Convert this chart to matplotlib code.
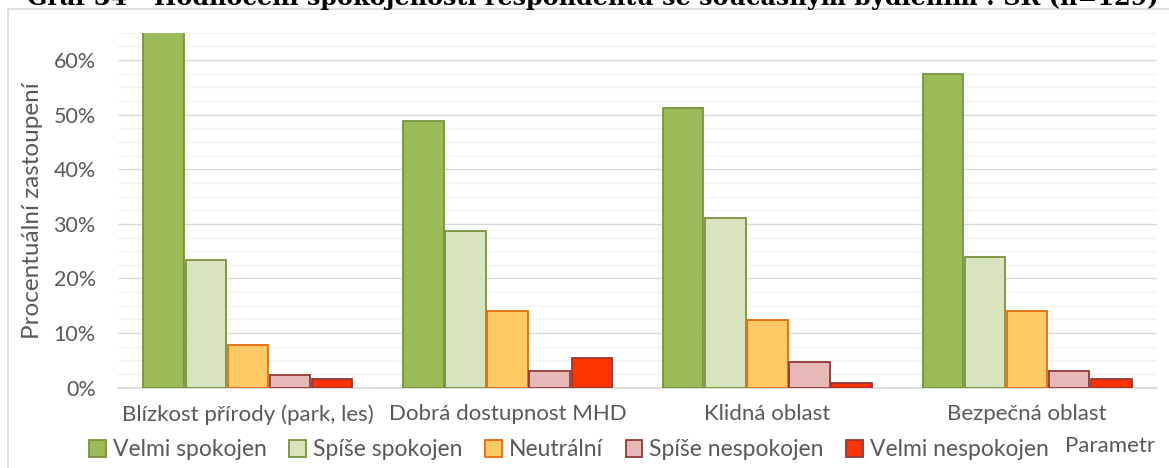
import matplotlib
matplotlib.use("Agg")
import matplotlib.pyplot as plt
import numpy as np
from matplotlib.patches import Rectangle
from matplotlib.ticker import MultipleLocator, FuncFormatter

categories = ["Blízkost přírody (park, les)", "Dobrá dostupnost MHD",
              "Klidná oblast", "Bezpečná oblast"]
series_names = ["Velmi spokojen", "Spíše spokojen", "Neutrální",
                "Spíše nespokojen", "Velmi nespokojen"]
velmi_spokojen = [65.1, 48.8, 51.2, 57.4]
spise_spokojen = [23.3, 28.7, 31.0, 24.0]
neutralni = [7.8, 14.0, 12.4, 14.0]
spise_nespokojen = [2.3, 3.1, 4.7, 3.1]
velmi_nespokojen = [1.6, 5.4, 0.8, 1.6]
title = "Graf 34 - Hodnocení spokojenosti respondentů se současným bydlením : SR (n=129)"
y_label = "Procentuální zastoupení"
x_label = "Parametr"

series = [velmi_spokojen, spise_spokojen, neutralni, spise_nespokojen, velmi_nespokojen]
fills = ["#9BBB59", "#D7E4BD", "#FFC966", "#E6B9B8", "#FF3300"]
edges = ["#77933C", "#77933C", "#E46C0A", "#953735", "#953735"]

plt.rcParams["font.family"] = ["Lato", "DejaVu Sans"]
txt = "#595959"

W, H = 1169, 468
fig = plt.figure(figsize=(W / 100, H / 100), dpi=100)
ax = fig.add_axes([118 / W, 1 - 387.7 / H, (1157 - 118) / W, (387.7 - 32.7) / H])

# chart frame
fig.patches.append(Rectangle((8 / W, -0.05), 1.2, 1 - 9 / H + 0.05, transform=fig.transFigure,
                             fill=False, edgecolor="#D9D9D9", linewidth=1.2, zorder=0))

x = np.arange(len(categories))
bw = 0.162
for i, (vals, fc, ec, name) in enumerate(zip(series, fills, edges, series_names)):
    ax.bar(x + (i - 2) * bw, vals, width=bw - 0.006, color=fc, edgecolor=ec,
           linewidth=1.3, label=name, zorder=3)

ax.set_xlim(-0.5, len(categories) - 0.5)
ax.set_ylim(0, 65)
ax.yaxis.set_major_locator(MultipleLocator(10))
ax.yaxis.set_minor_locator(MultipleLocator(2.5))
ax.yaxis.set_major_formatter(FuncFormatter(lambda v, p: f"{v:.0f}%"))
ax.grid(axis="y", which="major", color="#D9D9D9", linewidth=1.0, zorder=0)
ax.grid(axis="y", which="minor", color="#F2F2F2", linewidth=1.0, zorder=0)
ax.set_axisbelow(True)
for s in ["top", "right", "left"]:
    ax.spines[s].set_visible(False)
ax.spines["bottom"].set_color("#D9D9D9")
ax.spines["bottom"].set_linewidth(1.2)

ax.set_xticks(x)
ax.set_xticklabels(categories, fontsize=16, color=txt)
ax.tick_params(axis="x", length=0, pad=12)
ax.tick_params(axis="y", which="both", length=0, pad=16, labelsize=15.5, labelcolor=txt)
ax.set_ylabel(y_label, fontsize=17.5, color=txt)
ax.yaxis.set_label_coords((43 - 118) / (1157 - 118), (387.7 - 211) / (387.7 - 32.7))

leg = fig.legend(loc="center", bbox_to_anchor=(569 / W, 1 - 450 / H), ncol=5, frameon=False,
                 fontsize=16.5, handlelength=0.72, handleheight=0.72, handletextpad=0.3,
                 columnspacing=1.0, labelcolor=txt)
fig.text(1110 / W, 1 - 446 / H, x_label, fontsize=16, color=txt, ha="center", va="center")

# title, partly above the top edge
t = fig.text(593 / W, 1 - 5 / H, title, fontsize=18, fontweight="bold",
             family="DejaVu Serif", color="#000000", ha="center", va="baseline")
fig.canvas.draw()
bb = t.get_window_extent()
t.set_fontsize(18 * (1160 - 27) / bb.width)

fig.savefig("out.png", dpi=100)
